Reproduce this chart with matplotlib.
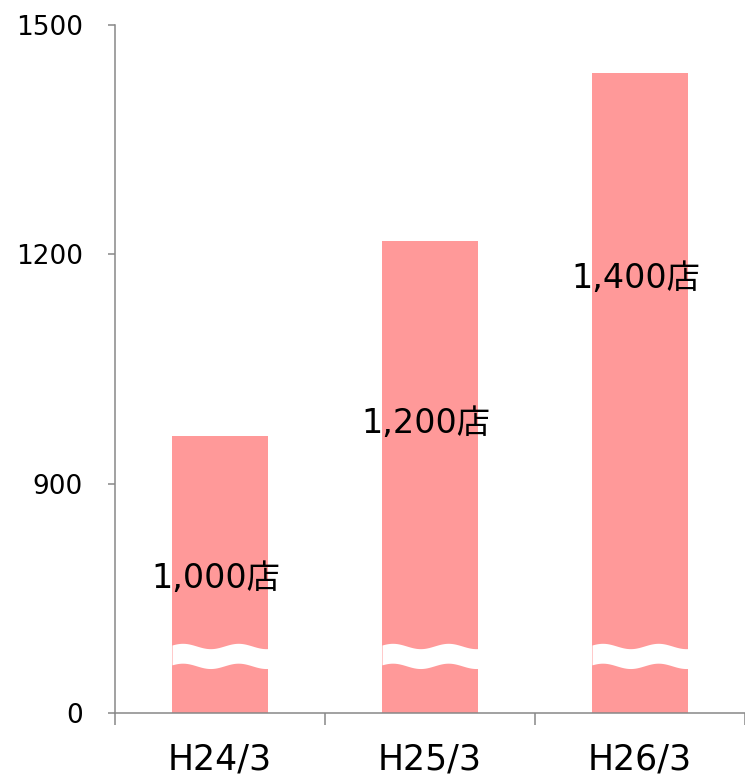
import numpy as np
import matplotlib
matplotlib.use('Agg')
import matplotlib.pyplot as plt

plt.rcParams['font.family'] = ['DejaVu Sans', 'Noto Sans CJK JP']

# ── データ ──────────────────────────────────────────────
categories = ['H24/3', 'H25/3', 'H26/3']
values     = [963, 1217, 1437]          # 棒の高さ（目盛上の値）
labels     = ['1,000店', '1,200店', '1,400店']
label_y    = [529, 979, 1169]           # ラベル位置
y_ticks    = [0, 900, 1200, 1500]

BAR_COLOR  = '#FF9999'
AXIS_COLOR = '#888888'


# 0〜900 を圧縮する省略軸
def _fwd(y):
    y = np.asarray(y, dtype=float)
    return np.where(y < 900, y / 3.0, y - 600.0)


def _inv(u):
    u = np.asarray(u, dtype=float)
    return np.where(u < 300, u * 3.0, u + 600.0)


fig = plt.figure(figsize=(7.45, 7.77), dpi=100)
ax = fig.add_axes([115 / 745, 64 / 777, 630 / 745, 688 / 777])
ax.set_yscale('function', functions=(_fwd, _inv))

x = np.arange(len(categories))
bar_w = 0.457
ax.bar(x, values, width=bar_w, color=BAR_COLOR, zorder=2)

# ── 波線（省略記号） ─────────────────────────────────────
wave_c, wave_amp, wave_half = 224, 10.5, 39
for xi in x:
    t = np.linspace(0, 1, 200)
    xs = xi - bar_w / 2 + t * bar_w
    off = wave_amp * np.cos(2 * np.pi * (t - 0.11) / 0.58)
    ax.fill_between(xs, wave_c + off - wave_half, wave_c + off + wave_half,
                    color='white', lw=0, zorder=3)

for xi, lab, ly in zip(x, labels, label_y):
    ax.text(xi - 0.02, ly, lab, ha='center', va='center', fontsize=24, zorder=4)

ax.set_xlim(-0.5, len(categories) - 0.5)
ax.set_ylim(0, 1500)
ax.set_yticks(y_ticks)
ax.set_yticklabels([str(v) for v in y_ticks], fontsize=19)
ax.tick_params(axis='y', length=5, width=1.1, color=AXIS_COLOR, pad=18)

ax.set_xticks(x)
ax.set_xticklabels(categories, fontsize=25)
ax.set_xticks(np.arange(len(categories) + 1) - 0.5, minor=True)
ax.tick_params(axis='x', which='major', length=0, pad=21)
ax.tick_params(axis='x', which='minor', length=8.5, width=1.1, color=AXIS_COLOR)

for side in ['top', 'right']:
    ax.spines[side].set_visible(False)
for side in ['left', 'bottom']:
    ax.spines[side].set_color(AXIS_COLOR)
    ax.spines[side].set_linewidth(1.1)

plt.savefig('out.png', dpi=100)
